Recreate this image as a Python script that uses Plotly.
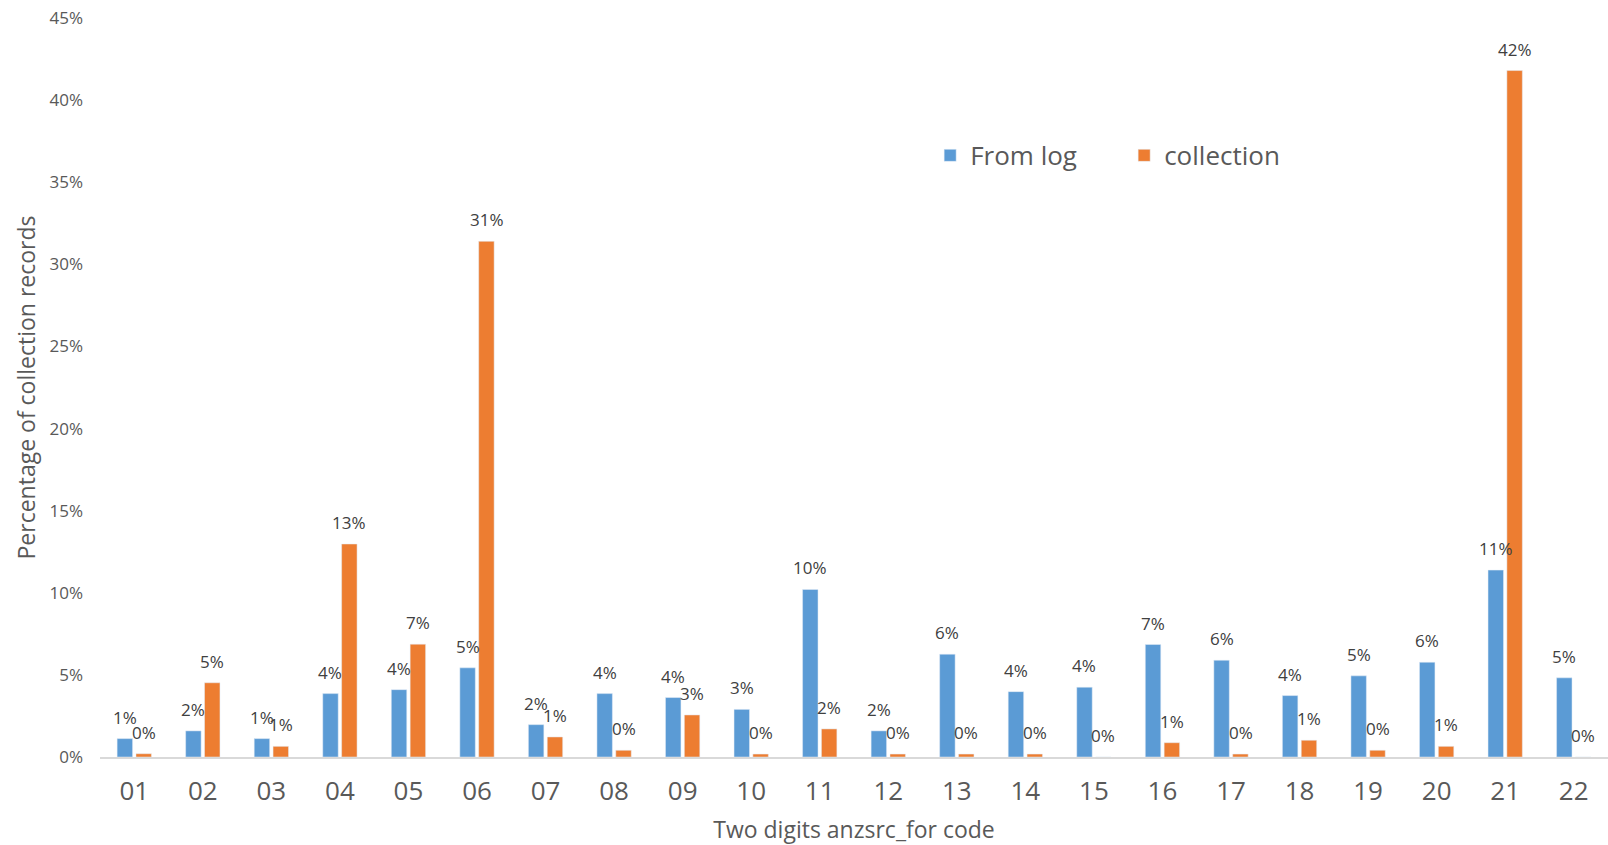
import plotly.graph_objects as go

# Two-digit ANZSRC FoR codes and the share of records per code (fractions)
codes = ["01", "02", "03", "04", "05", "06", "07", "08", "09", "10", "11",
         "12", "13", "14", "15", "16", "17", "18", "19", "20", "21", "22"]
from_log = [0.0112, 0.0159, 0.0112, 0.0386, 0.0410, 0.0543, 0.0197, 0.0386,
            0.0362, 0.0290, 0.1020, 0.0159, 0.0626, 0.0398, 0.0425, 0.0685,
            0.0589, 0.0374, 0.0494, 0.0577, 0.1138, 0.0482]
collection = [0.0020, 0.0452, 0.0065, 0.1297, 0.0687, 0.3140, 0.0122, 0.0041,
              0.0256, 0.0018, 0.0171, 0.0018, 0.0018, 0.0018, 0.0000, 0.0087,
              0.0018, 0.0102, 0.0041, 0.0065, 0.4180, 0.0000]
y_ticks = [0, 0.05, 0.10, 0.15, 0.20, 0.25, 0.30, 0.35, 0.40, 0.45]

BLUE = "#5B9BD5"
ORANGE = "#ED7D31"
TEXT = "#595959"
LABEL = "#404040"
FONT = "Open Sans"

fig = go.Figure()
fig.add_trace(go.Bar(x=codes, y=from_log, name="From log", marker_color=BLUE,
                     hoverinfo="x+y"))
fig.add_trace(go.Bar(x=codes, y=collection, name="collection", marker_color=ORANGE,
                     hoverinfo="x+y"))

# value labels above each bar, offset to the bar's slot inside the group
# (category index used as x so codes like "01" are not read as numbers)
annotations = []
for series, shift in ((from_log, -9.5), (collection, 9.5)):
    for i, v in enumerate(series):
        annotations.append(dict(
            x=i, y=v, xref="x", yref="y", text=f"{v:.0%}", showarrow=False,
            xanchor="center", yanchor="bottom", xshift=shift, yshift=8,
            font=dict(family=FONT, size=17, color=LABEL)))

fig.update_layout(
    width=1608, height=845,
    margin=dict(l=100, r=0, t=18, b=88),
    paper_bgcolor="white", plot_bgcolor="white",
    barmode="group", bargap=0.45, bargroupgap=0.18,
    font=dict(family=FONT, color=TEXT),
    showlegend=True,
    legend=dict(orientation="h", x=0.5505, y=0.814, xanchor="left", yanchor="middle",
                font=dict(family=FONT, size=26, color=TEXT), entrywidth=149,
                bgcolor="rgba(0,0,0,0)"),
    annotations=annotations,
)
fig.update_xaxes(
    type="category", range=[-0.5, 21.5], showgrid=False, ticks="",
    showline=True, linecolor="#D9D9D9", linewidth=1.5,
    tickfont=dict(family=FONT, size=26, color=TEXT), ticklabelstandoff=10,
    title=dict(text="Two digits anzsrc_for code", standoff=17,
               font=dict(family=FONT, size=23, color=TEXT)),
)
fig.update_yaxes(
    range=[0, 0.45], tickvals=y_ticks, tickformat=".0%", showgrid=False,
    zeroline=False, showline=False, ticks="",
    tickfont=dict(family=FONT, size=17, color=TEXT), ticklabelstandoff=16,
    title=dict(text="Percentage of collection records", standoff=7,
               font=dict(family=FONT, size=23, color=TEXT)),
)

fig.write_html("out.html")
